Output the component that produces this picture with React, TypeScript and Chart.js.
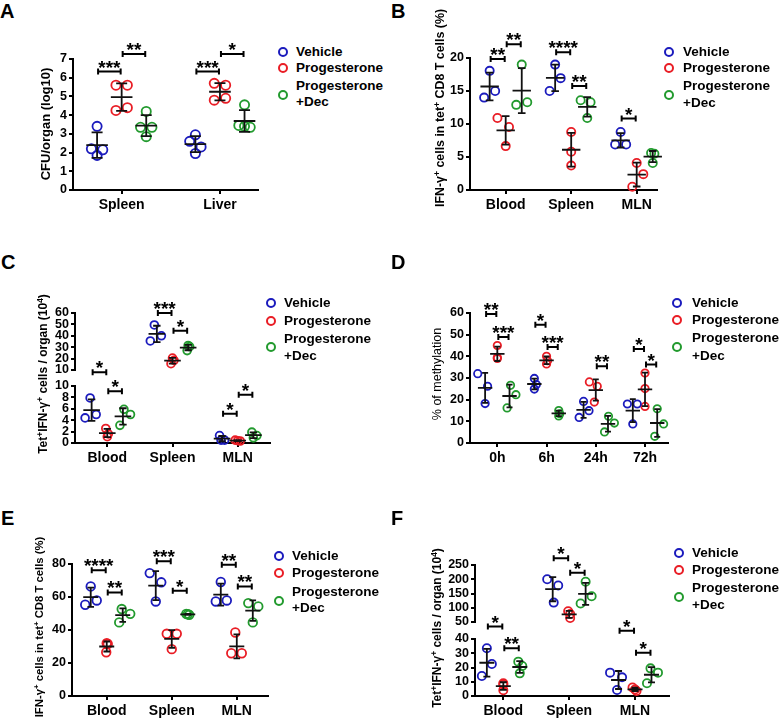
import React, { useEffect, useRef } from "react";
import { Chart, registerables } from "chart.js";

Chart.register(...registerables);

const FONT = "'Liberation Sans', Arial, Helvetica, sans-serif";

// ---------- shared ----------
const GROUP_NAMES = ["Vehicle", "Progesterone", "Progesterone +Dec"];
const LEGEND_LINES = ["Vehicle", "Progesterone", "Progesterone", "+Dec"];
const GROUP_COLORS = ["#1b1bbd", "#e91d25", "#229a2e"];

// ---------- Panel A ----------
const A_CATEGORIES = ["Spleen", "Liver"];
const A_VEHICLE = [[3.4, 2.2, 2.15, 1.85], [2.95, 2.6, 2.3, 1.95]];
const A_PROGESTERONE = [[5.6, 5.6, 4.25, 4.4], [5.7, 5.6, 4.8, 4.9]];
const A_PROG_DEC = [[4.2, 3.35, 3.35, 2.85], [4.55, 3.45, 3.35, 3.4]];
const A_SWARM = [
  [[0, -1, 1, 0], [0, -1, 1, 0]],
  [[-1, 1, -1, 1], [-1, 1, -1, 1]],
  [[0, 1, -1, 0], [0, -1, 1, 0]],
];
const A_Y_TICKS = [0, 1, 2, 3, 4, 5, 6, 7];
const A_SIG = [
  { cat: 0, from: 0, to: 1, y: 6.33, label: "***" },
  { cat: 0, from: 1, to: 2, y: 7.27, label: "**" },
  { cat: 1, from: 0, to: 1, y: 6.33, label: "***" },
  { cat: 1, from: 1, to: 2, y: 7.27, label: "*" },
];

// ---------- Panel B ----------
const B_CATEGORIES = ["Blood", "Spleen", "MLN"];
const B_VEHICLE = [[18.05, 14.0, 15.0], [19.0, 16.95, 15.0], [8.8, 6.9, 6.9]];
const B_PROGESTERONE = [[10.9, 9.55, 6.65], [8.8, 5.8, 3.7], [4.1, 2.4, 0.5]];
const B_PROG_DEC = [[19.0, 12.9, 13.3], [13.6, 13.3, 10.9], [5.6, 5.5, 4.1]];
const B_SWARM = [
  [[0, -1, 1], [0, 1, -1], [0, -1, 1]],
  [[-1.5, 0.6, 0], [0, 0, 0], [0, 1.2, -0.8]],
  [[0, -1, 1], [-1.2, 0.6, 0], [-0.3, 0.3, 0]],
];
const B_Y_TICKS = [0, 5, 10, 15, 20];
const B_SIG = [
  { cat: 0, from: 0, to: 1, y: 19.85, label: "**" },
  { cat: 0, from: 1, to: 2, y: 22.1, label: "**" },
  { cat: 1, from: 0, to: 1, y: 20.87, label: "****" },
  { cat: 1, from: 1, to: 2, y: 15.77, label: "**" },
  { cat: 2, from: 0, to: 1, y: 10.82, label: "*" },
];

// ---------- Panel C (broken axis) ----------
const C_CATEGORIES = ["Blood", "Spleen", "MLN"];
const C_SEGMENT = ["lo", "hi", "lo"];
const C_VEHICLE = [[7.9, 4.4, 5.0], [49.5, 40.0, 35.5], [1.3, 0.5, 0.5]];
const C_PROGESTERONE = [[2.55, 1.1, 1.6], [20.5, 15.5, 18.5], [0.5, 0.35, 0.4]];
const C_PROG_DEC = [[5.9, 5.0, 3.1], [31.5, 27.0, 30.5], [1.9, 1.3, 0.9]];
const C_SWARM = [
  [[-0.3, -1.3, 0.9], [-0.5, 0.9, -1.3], [-0.5, 0.5, -0.2]],
  [[-0.3, 0, 0.2], [0, -0.3, 0.3], [-0.5, 0.5, 0]],
  [[0.2, 1.5, -0.6], [0, -0.2, 0.3], [-0.3, 0.7, 0]],
];
const C_LO_TICKS = [0, 2, 4, 6, 8, 10];
const C_HI_TICKS = [10, 20, 30, 40, 50, 60];
const C_SIG = [
  { cat: 0, from: 0, to: 1, y: 12.4, label: "*", seg: "lo" },
  { cat: 0, from: 1, to: 2, y: 9.06, label: "*", seg: "lo" },
  { cat: 1, from: 0, to: 1, y: 60, label: "***", seg: "hi" },
  { cat: 1, from: 1, to: 2, y: 44.4, label: "*", seg: "hi" },
  { cat: 2, from: 0, to: 1, y: 5.15, label: "*", seg: "lo" },
  { cat: 2, from: 1, to: 2, y: 8.48, label: "*", seg: "lo" },
];

// ---------- Panel D ----------
const D_CATEGORIES = ["0h", "6h", "24h", "72h"];
const D_VEHICLE = [[32, 26.2, 18.2], [29.8, 27.0, 24.9], [19.2, 11.8, 14.9], [18.0, 18.0, 8.8]];
const D_PROGESTERONE = [[45, 39, 39.5], [40, 38, 36.5], [28.2, 26.2, 18.9], [32.3, 25.1, 16.9]];
const D_PROG_DEC = [[26.6, 22.3, 16.2], [15, 13.5, 12.5], [12.3, 9.2, 5.1], [15.8, 8.8, 3.1]];
const D_SWARM = [
  [[-1.5, 0.5, 0], [0, 0.4, 0], [0, -0.9, 1.1], [-1.1, 0.9, 0]],
  [[0, 0, 0], [0, 0.2, 0], [-1.3, 0.3, -0.3], [0, 0, 0]],
  [[0.2, 1.3, -0.5], [0, 0.2, 0], [0.1, 1.3, -0.7], [0, 1.3, -0.5]],
];
const D_Y_TICKS = [0, 10, 20, 30, 40, 50, 60];
const D_SIG = [
  { cat: 0, from: 0, to: 1, y: 59.5, label: "**" },
  { cat: 0, from: 1, to: 2, y: 48.9, label: "***" },
  { cat: 1, from: 0, to: 1, y: 54.6, label: "*" },
  { cat: 1, from: 1, to: 2, y: 44.3, label: "***" },
  { cat: 2, from: 1, to: 2, y: 35.4, label: "**" },
  { cat: 3, from: 0, to: 1, y: 43.4, label: "*" },
  { cat: 3, from: 1, to: 2, y: 36.2, label: "*" },
];

// ---------- Panel E ----------
const E_CATEGORIES = ["Blood", "Spleen", "MLN"];
const E_VEHICLE = [[66.4, 55.3, 57.9], [74.5, 68.9, 57.3], [69.1, 57.3, 57.9]];
const E_PROGESTERONE = [[32, 31.5, 26.5], [37.7, 37.7, 28.4], [38.5, 25.9, 25.9]];
const E_PROG_DEC = [[52.7, 49.8, 44.6], [49.8, 49.2, 49.5], [56.3, 54.3, 44.6]];
const E_SWARM = [
  [[0, -1.1, 1.2], [-1.2, 1.1, 0], [0, -1, 1.2]],
  [[0, 0.2, -0.1], [-1, 1, 0], [-0.3, -1.1, 1]],
  [[-0.2, 1.5, -0.7], [-0.3, 0.3, 0], [-0.9, 1.1, 0]],
];
const E_Y_TICKS = [0, 20, 40, 60, 80];
const E_SIG = [
  { cat: 0, from: 0, to: 1, y: 76.2, label: "****" },
  { cat: 0, from: 1, to: 2, y: 62.8, label: "**" },
  { cat: 1, from: 0, to: 1, y: 81.6, label: "***" },
  { cat: 1, from: 1, to: 2, y: 63.8, label: "*" },
  { cat: 2, from: 0, to: 1, y: 79.6, label: "**" },
  { cat: 2, from: 1, to: 2, y: 66.4, label: "**" },
];

// ---------- Panel F (broken axis) ----------
const F_CATEGORIES = ["Blood", "Spleen", "MLN"];
const F_SEGMENT = ["lo", "hi", "lo"];
const F_VEHICLE = [[33.5, 22.5, 14.0], [200, 178, 118], [16.4, 13.1, 4.2]];
const F_PROGESTERONE = [[9, 8, 4], [88, 78, 64], [6, 4.5, 3.5]];
const F_PROG_DEC = [[24.1, 21.1, 15.9], [191, 140.6, 114.7], [19.4, 16.4, 8.9]];
const F_SWARM = [
  [[0, 1, -1], [-1.1, 1.1, 0.2], [-1.7, 0.7, -0.3]],
  [[0, 0, 0], [-0.2, 0.2, 0.2], [-0.5, 0, 0.3]],
  [[-0.3, 0.5, 0], [0, 1.2, -1], [-0.2, 1.3, -0.9]],
];
const F_LO_TICKS = [0, 10, 20, 30, 40];
const F_HI_TICKS = [50, 100, 150, 200, 250];
const F_SIG = [
  { cat: 0, from: 0, to: 1, y: 48.7, label: "*", seg: "lo" },
  { cat: 0, from: 1, to: 2, y: 33.5, label: "**", seg: "lo" },
  { cat: 1, from: 0, to: 1, y: 273.5, label: "*", seg: "hi" },
  { cat: 1, from: 1, to: 2, y: 223, label: "*", seg: "hi" },
  { cat: 2, from: 0, to: 1, y: 45.8, label: "*", seg: "lo" },
  { cat: 2, from: 1, to: 2, y: 30.4, label: "*", seg: "lo" },
];

// ---------- layout / style specs ----------
const PANELS: any[] = [
  {
    id: "A", box: { x: 20, y: 20, w: 250, h: 200 }, yAxisWidth: 53, padTop: 39, padRight: 12, xAxisHeight: 30,
    xMin: 0.505, xMax: 2.387, categories: A_CATEGORIES, groups: [A_VEHICLE, A_PROGESTERONE, A_PROG_DEC],
    swarm: A_SWARM, groupOffset: 0.25, swarmUnit: 0.058, y: { min: 0, max: 7, ticks: A_Y_TICKS },
    sig: A_SIG, pointRadius: 4.6, meanHalf: 10.8, capHalf: 5.5,
  },
  {
    id: "B", box: { x: 410, y: 10, w: 260, h: 210 }, yAxisWidth: 60, padTop: 48, padRight: 13, xAxisHeight: 30,
    xMin: 0.455, xMax: 3.31, categories: B_CATEGORIES, groups: [B_VEHICLE, B_PROGESTERONE, B_PROG_DEC],
    swarm: B_SWARM, groupOffset: 0.245, swarmUnit: 0.084, y: { min: 0, max: 20, ticks: B_Y_TICKS },
    sig: B_SIG, pointRadius: 4.1, meanHalf: 9.2, capHalf: 3.8,
  },
  {
    id: "C", box: { x: 20, y: 270, w: 260, h: 200 }, yAxisWidth: 55, padTop: 43, padRight: 10, xAxisHeight: 27,
    xMin: 0.505, xMax: 3.495, categories: C_CATEGORIES, groups: [C_VEHICLE, C_PROGESTERONE, C_PROG_DEC],
    swarm: C_SWARM, groupOffset: 0.24, swarmUnit: 0.077,
    broken: { lo: { min: 0, max: 10, ticks: C_LO_TICKS }, hi: { min: 10, max: 60, ticks: C_HI_TICKS }, segOf: C_SEGMENT, weights: [57, 16, 57] },
    sig: C_SIG, pointRadius: 3.9, meanHalf: 8.3, capHalf: 3.7,
  },
  {
    id: "D", box: { x: 410, y: 270, w: 270, h: 200 }, yAxisWidth: 60, padTop: 43, padRight: 12, xAxisHeight: 27,
    xMin: 0.445, xMax: 4.467, categories: D_CATEGORIES, groups: [D_VEHICLE, D_PROGESTERONE, D_PROG_DEC],
    swarm: D_SWARM, groupOffset: 0.248, swarmUnit: 0.1, y: { min: 0, max: 60, ticks: D_Y_TICKS },
    sig: D_SIG, pointRadius: 3.7, meanHalf: 7.2, capHalf: 3,
  },
  {
    id: "E", box: { x: 20, y: 520, w: 260, h: 201 }, yAxisWidth: 52, padTop: 44, padRight: 12, xAxisHeight: 25,
    xMin: 0.466, xMax: 3.48, categories: E_CATEGORIES, groups: [E_VEHICLE, E_PROGESTERONE, E_PROG_DEC],
    swarm: E_SWARM, groupOffset: 0.246, swarmUnit: 0.077, y: { min: 0, max: 80, ticks: E_Y_TICKS },
    sig: E_SIG, pointRadius: 4.3, meanHalf: 7.5, capHalf: 3.3,
  },
  {
    id: "F", box: { x: 410, y: 520, w: 270, h: 201 }, yAxisWidth: 65, padTop: 45, padRight: 11, xAxisHeight: 25,
    xMin: 0.57, xMax: 3.516, categories: F_CATEGORIES, groups: [F_VEHICLE, F_PROGESTERONE, F_PROG_DEC],
    swarm: F_SWARM, groupOffset: 0.25, swarmUnit: 0.076,
    broken: { lo: { min: 0, max: 40, ticks: F_LO_TICKS }, hi: { min: 50, max: 250, ticks: F_HI_TICKS }, segOf: F_SEGMENT, weights: [57, 17, 57] },
    sig: F_SIG, pointRadius: 4.1, meanHalf: 7.5, capHalf: 3.5,
  },
];

const LEGENDS = [
  { cx: 283, tx: 296, rows: [52, 68.3, 86, 102, 95] },
  { cx: 669, tx: 683, rows: [51.5, 68.3, 86, 102.5, 95] },
  { cx: 271, tx: 284, rows: [303.3, 320.7, 339, 356, 347] },
  { cx: 677, tx: 692, rows: [302.7, 320, 338.3, 356, 347] },
  { cx: 279, tx: 292, rows: [556, 573.3, 592.3, 608.3, 600.7] },
  { cx: 679, tx: 692, rows: [553.3, 570, 587.7, 605, 596.7] },
];

const LETTERS = [
  { t: "A", x: 0, y: 1 }, { t: "B", x: 391, y: 1 },
  { t: "C", x: 1, y: 252 }, { t: "D", x: 391, y: 252 },
  { t: "E", x: 1, y: 508 }, { t: "F", x: 391, y: 508 },
];

const IFN_TITLE: [string, boolean][] = [["IFN-γ", false], ["+", true], [" cells in tet", false], ["+", true], [" CD8 T cells (%)", false]];
const TET_TITLE: [string, boolean][] = [["Tet", false], ["+", true], ["IFN-γ", false], ["+", true], [" cells / organ (10", false], ["4", true], [")", false]];
const Y_TITLES = [
  { x: 45, y: 123.5, size: 13, weight: 700, parts: [["CFU/organ (log10)", false]] as [string, boolean][] },
  { x: 440, y: 108, size: 12.4, weight: 700, parts: IFN_TITLE },
  { x: 43, y: 374, size: 12, weight: 700, parts: TET_TITLE },
  { x: 437, y: 374, size: 12.5, weight: 400, parts: [["% of methylation", false]] as [string, boolean][] },
  { x: 40, y: 627, size: 11.3, weight: 700, parts: IFN_TITLE },
  { x: 437, y: 628, size: 12, weight: 700, parts: TET_TITLE },
];

// ---------- helpers ----------
function mean(a: number[]) {
  return a.reduce((s, v) => s + v, 0) / a.length;
}
function sd(a: number[]) {
  const m = mean(a);
  return Math.sqrt(a.reduce((s, v) => s + (v - m) * (v - m), 0) / (a.length - 1));
}
function segAxis(seg?: string) {
  return seg === "hi" ? "yHi" : seg === "lo" ? "yLo" : "y";
}
function groupCenter(spec: any, cat: number, g: number) {
  return cat + 1 + (g - 1) * spec.groupOffset;
}

function buildDatasets(spec: any) {
  const out: any[] = [];
  spec.groups.forEach((byCat: number[][], g: number) => {
    const segs: (string | undefined)[] = spec.broken ? ["lo", "hi"] : [undefined];
    segs.forEach((seg) => {
      const data: { x: number; y: number }[] = [];
      byCat.forEach((vals, c) => {
        if (seg && spec.broken.segOf[c] !== seg) return;
        vals.forEach((v, i) => {
          data.push({ x: groupCenter(spec, c, g) + spec.swarm[g][c][i] * spec.swarmUnit, y: v });
        });
      });
      out.push({
        label: GROUP_NAMES[g],
        data,
        yAxisID: segAxis(seg),
        showLine: false,
        pointStyle: "circle",
        pointRadius: spec.pointRadius,
        pointHoverRadius: spec.pointRadius,
        pointBorderWidth: 1.8,
        pointBackgroundColor: "rgba(0,0,0,0)",
        pointBorderColor: GROUP_COLORS[g],
        borderColor: GROUP_COLORS[g],
        backgroundColor: "rgba(0,0,0,0)",
        clip: false,
      });
    });
  });
  return out;
}

function buildScales(spec: any) {
  const tickFont = { family: FONT, size: 12.5, weight: "bold" };
  const mkGrid = () => ({
    display: true, drawOnChartArea: false, drawTicks: true, tickLength: 4, tickWidth: 2,
    tickColor: "#000", color: "#000", lineWidth: 2,
  });
  const mkBorder = () => ({ display: true, color: "#000", width: 2 });
  const yAxis = (min: number, max: number, ticks: number[], extra: any = {}) => ({
    type: "linear", axis: "y", position: "left", min, max,
    afterFit: (s: any) => { s.width = spec.yAxisWidth; },
    afterBuildTicks: (s: any) => { s.ticks = ticks.map((v) => ({ value: v })); },
    ticks: { autoSkip: false, padding: 2, color: "#000", font: tickFont },
    grid: mkGrid(), border: mkBorder(),
    ...extra,
  });
  const scales: any = {
    x: {
      type: "linear", axis: "x", position: "bottom", min: spec.xMin, max: spec.xMax,
      afterFit: (s: any) => { s.height = spec.xAxisHeight; },
      afterBuildTicks: (s: any) => { s.ticks = spec.categories.map((_: string, i: number) => ({ value: i + 1 })); },
      ticks: {
        autoSkip: false, maxRotation: 0, minRotation: 0, padding: 3, color: "#000",
        font: { family: FONT, size: 14, weight: "bold" },
        callback: (v: number) => spec.categories[Math.round(v) - 1] ?? "",
      },
      grid: mkGrid(), border: mkBorder(),
    },
  };
  if (spec.broken) {
    const b = spec.broken;
    scales.yLo = yAxis(b.lo.min, b.lo.max, b.lo.ticks, { stack: "broken", stackWeight: b.weights[0] });
    scales.yGap = {
      type: "linear", axis: "y", position: "left", min: 0, max: 1, display: true,
      stack: "broken", stackWeight: b.weights[1],
      afterFit: (s: any) => { s.width = spec.yAxisWidth; },
      ticks: { display: false }, grid: { display: false }, border: { display: false },
    };
    scales.yHi = yAxis(b.hi.min, b.hi.max, b.hi.ticks, { stack: "broken", stackWeight: b.weights[2] });
  } else {
    scales.y = yAxis(spec.y.min, spec.y.max, spec.y.ticks);
  }
  return scales;
}

function statsPlugin(spec: any) {
  return {
    id: "stats" + spec.id,
    afterDatasetsDraw(chart: any) {
      const ctx = chart.ctx;
      const xs = chart.scales.x;
      ctx.save();
      ctx.strokeStyle = "#111";
      ctx.lineWidth = 1.8;
      spec.groups.forEach((byCat: number[][], g: number) => {
        byCat.forEach((vals, c) => {
          const ys = chart.scales[segAxis(spec.broken ? spec.broken.segOf[c] : undefined)];
          const m = mean(vals);
          const s = sd(vals);
          const cx = xs.getPixelForValue(groupCenter(spec, c, g));
          const ym = ys.getPixelForValue(m);
          const yt = ys.getPixelForValue(m + s);
          const yb = ys.getPixelForValue(m - s);
          ctx.beginPath();
          ctx.moveTo(cx - spec.meanHalf, ym); ctx.lineTo(cx + spec.meanHalf, ym);
          ctx.moveTo(cx, yt); ctx.lineTo(cx, yb);
          ctx.moveTo(cx - spec.capHalf, yt); ctx.lineTo(cx + spec.capHalf, yt);
          ctx.moveTo(cx - spec.capHalf, yb); ctx.lineTo(cx + spec.capHalf, yb);
          ctx.stroke();
        });
      });
      ctx.strokeStyle = "#000";
      ctx.fillStyle = "#000";
      ctx.lineWidth = 2;
      ctx.font = `bold 19px ${FONT}`;
      ctx.textAlign = "center";
      ctx.textBaseline = "alphabetic";
      spec.sig.forEach((b: any) => {
        const ys = chart.scales[segAxis(b.seg)];
        const x1 = xs.getPixelForValue(groupCenter(spec, b.cat, b.from)) + 1;
        const x2 = xs.getPixelForValue(groupCenter(spec, b.cat, b.to)) - 1;
        const y = ys.getPixelForValue(b.y);
        ctx.beginPath();
        ctx.moveTo(x1, y); ctx.lineTo(x2, y);
        ctx.moveTo(x1, y - 3); ctx.lineTo(x1, y + 3);
        ctx.moveTo(x2, y - 3); ctx.lineTo(x2, y + 3);
        ctx.stroke();
        ctx.fillText(b.label, (x1 + x2) / 2, y + 2);
      });
      ctx.restore();
    },
  };
}

function PanelChart({ spec }: { spec: any }) {
  const ref = useRef<HTMLCanvasElement | null>(null);
  useEffect(() => {
    if (!ref.current) return;
    const chart = new Chart(ref.current, {
      type: "scatter",
      data: { datasets: buildDatasets(spec) },
      options: {
        animation: false,
        responsive: false,
        maintainAspectRatio: false,
        devicePixelRatio: 1,
        events: [],
        layout: { padding: { left: 0, top: spec.padTop, right: spec.padRight, bottom: 0 } },
        plugins: { legend: { display: false }, tooltip: { enabled: false }, title: { display: false } },
        scales: buildScales(spec),
      } as any,
      plugins: [statsPlugin(spec)],
    } as any);
    return () => chart.destroy();
  }, [spec]);
  const { x, y, w, h } = spec.box;
  return (
    <canvas
      ref={ref}
      width={w}
      height={h}
      style={{ position: "absolute", left: x, top: y, width: w, height: h }}
    />
  );
}

function Legend({ lg }: { lg: any }) {
  const circ = (cy: number, color: string, key: string) => (
    <div
      key={key}
      style={{
        position: "absolute", left: lg.cx - 5, top: cy - 5, width: 10, height: 10,
        boxSizing: "border-box", border: `2px solid ${color}`, borderRadius: "50%",
      }}
    />
  );
  const text = (cy: number, t: string, key: string) => (
    <div
      key={key}
      style={{
        position: "absolute", left: lg.tx, top: cy - 8, height: 16, lineHeight: "16px",
        fontSize: 13.5, fontWeight: 700, whiteSpace: "nowrap", color: "#000",
      }}
    >
      {t}
    </div>
  );
  return (
    <>
      {circ(lg.rows[0], GROUP_COLORS[0], "c0")}
      {circ(lg.rows[1], GROUP_COLORS[1], "c1")}
      {circ(lg.rows[4], GROUP_COLORS[2], "c2")}
      {text(lg.rows[0], LEGEND_LINES[0], "t0")}
      {text(lg.rows[1], LEGEND_LINES[1], "t1")}
      {text(lg.rows[2], LEGEND_LINES[2], "t2")}
      {text(lg.rows[3], LEGEND_LINES[3], "t3")}
    </>
  );
}

export default function App() {
  return (
    <div
      style={{
        position: "absolute", left: 0, top: 0, width: 781, height: 721, overflow: "hidden",
        background: "#fff", fontFamily: FONT, color: "#000",
      }}
    >
      {PANELS.map((p) => (
        <PanelChart key={p.id} spec={p} />
      ))}
      {LEGENDS.map((lg, i) => (
        <Legend key={i} lg={lg} />
      ))}
      {LETTERS.map((l) => (
        <div
          key={l.t}
          style={{ position: "absolute", left: l.x, top: l.y, fontSize: 20, lineHeight: "20px", fontWeight: 700 }}
        >
          {l.t}
        </div>
      ))}
      {Y_TITLES.map((t, i) => (
        <div
          key={i}
          style={{
            position: "absolute", left: t.x, top: t.y, whiteSpace: "nowrap", lineHeight: 1,
            fontSize: t.size, fontWeight: t.weight, transform: "translate(-50%, -50%) rotate(-90deg)",
          }}
        >
          {t.parts.map(([s, sup], j) =>
            sup ? (
              <span key={j} style={{ fontSize: "0.7em", position: "relative", top: "-0.45em" }}>{s}</span>
            ) : (
              <span key={j}>{s}</span>
            )
          )}
        </div>
      ))}
    </div>
  );
}
